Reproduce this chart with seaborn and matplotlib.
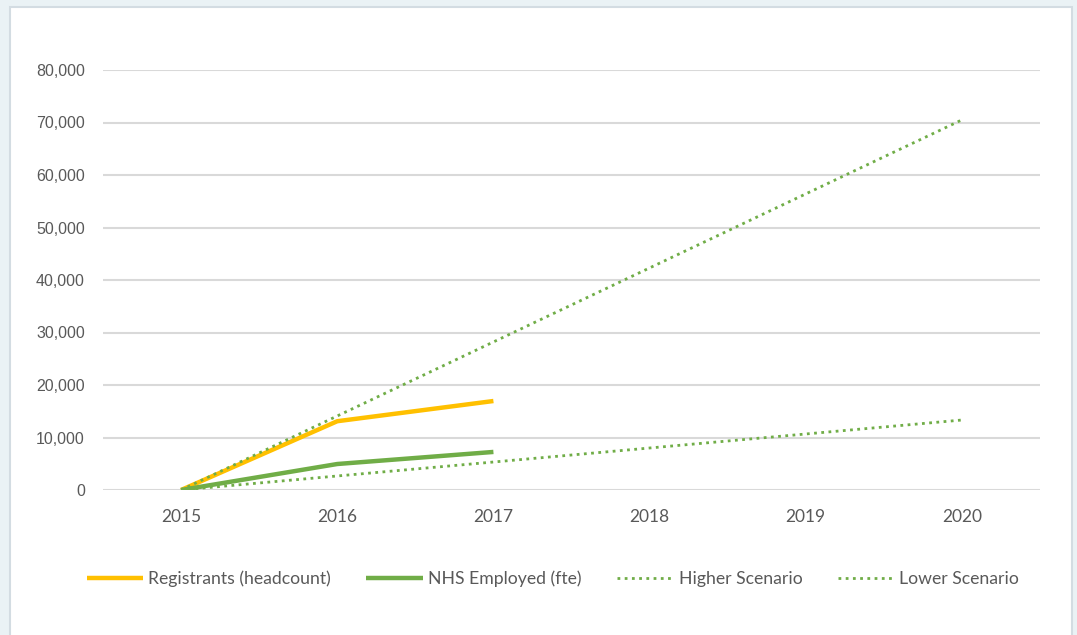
import matplotlib
matplotlib.use("Agg")
import matplotlib.pyplot as plt
import seaborn as sns
import pandas as pd
import numpy as np
from matplotlib.patches import Rectangle

years = [2015, 2016, 2017, 2018, 2019, 2020]
registrants = [0, 13100, 16950]
nhs_employed = [0, 4950, 7250]
higher_scenario = [0, 14100, 28200, 42300, 56400, 70500]
lower_scenario = [0, 2670, 5330, 8000, 10670, 13330]
y_ticks = [0, 10000, 20000, 30000, 40000, 50000, 60000, 70000, 80000]

series_names = ["Registrants (headcount)", "NHS Employed (fte)", "Higher Scenario", "Lower Scenario"]
series_values = [registrants, nhs_employed, higher_scenario, lower_scenario]

rows = []
for name, vals in zip(series_names, series_values):
    for yr, v in zip(years, vals):
        rows.append({"Year": yr, "Value": v, "Series": name})
df = pd.DataFrame(rows)

sns.set_theme(style="white")
plt.rcParams["font.family"] = ["Lato", "DejaVu Sans"]

fig = plt.figure(figsize=(10.77, 6.35), dpi=100)
fig.patch.set_facecolor("#eaf2f5")
panel = Rectangle((10 / 1077, -0.01), 1062 / 1077, 1.0 - 7 / 635 + 0.01,
                  transform=fig.transFigure, facecolor="white",
                  edgecolor="#d3dce2", linewidth=1.5, zorder=-10)
fig.patches.append(panel)

ax = fig.add_axes([103 / 1077, (635 - 490) / 635, (1040 - 103) / 1077, (490 - 70) / 635])
ax.set_zorder(1)
ax.set_facecolor("white")

yellow = "#ffc000"
green = "#70ad47"
styles = {
    "Registrants (headcount)": dict(color=yellow, linewidth=3.2, linestyle="-", zorder=3),
    "NHS Employed (fte)": dict(color=green, linewidth=3.2, linestyle="-", zorder=3),
    "Higher Scenario": dict(color=green, linewidth=2.0, linestyle=(0, (1, 1.6)), zorder=4),
    "Lower Scenario": dict(color=green, linewidth=2.0, linestyle=(0, (1, 1.6)), zorder=4),
}
for name in series_names:
    sub = df[df["Series"] == name]
    st = styles[name]
    sns.lineplot(data=sub, x="Year", y="Value", ax=ax, label=name, sort=False,
                 color=st["color"], linewidth=st["linewidth"], linestyle=st["linestyle"],
                 zorder=st["zorder"], solid_capstyle="butt")

ax.set_xlim(years[0] - 0.5, years[-1] + 0.5)
ax.set_ylim(0, 80000)
ax.set_xticks(years)
ax.set_xticklabels([str(y) for y in years])
ax.set_yticks(y_ticks)
ax.set_yticklabels([f"{v:,}" for v in y_ticks], family=["Liberation Sans", "DejaVu Sans"])
ax.yaxis.grid(True, color="#d9d9d9", linewidth=1.5)
ax.xaxis.grid(False)
ax.set_axisbelow(True)
for s in ax.spines.values():
    s.set_visible(False)
ax.tick_params(axis="y", length=0, pad=13, labelsize=11.5, labelcolor="#595959")
ax.tick_params(axis="x", length=0, pad=14, labelsize=12.5, labelcolor="#595959")
ax.set_xlabel("")
ax.set_ylabel("")

ax.get_legend().remove()
handles, labels = ax.get_legend_handles_labels()
fig.legend(handles, labels, loc="center", bbox_to_anchor=(553 / 1077, 1 - 579 / 635),
           ncol=4, frameon=False, fontsize=12.7, handlelength=3.2, handletextpad=0.3,
           columnspacing=2.0, labelcolor="#595959")

fig.savefig("out.png", dpi=100, facecolor=fig.get_facecolor())
